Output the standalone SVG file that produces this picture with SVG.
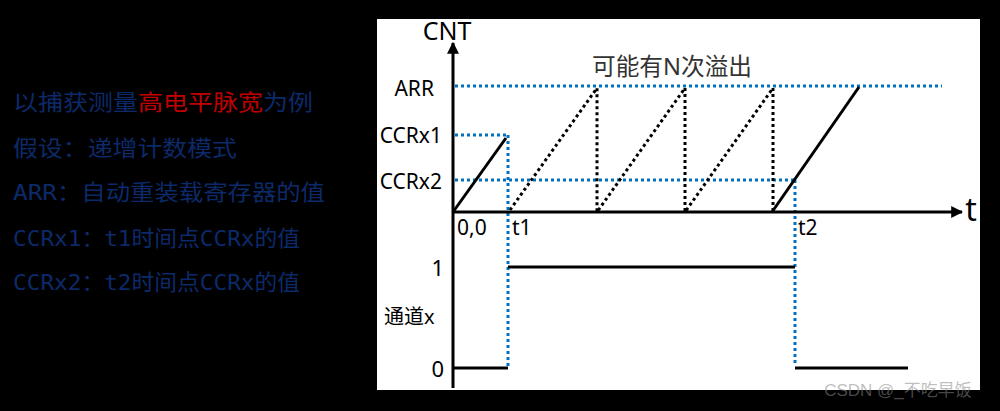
<svg xmlns="http://www.w3.org/2000/svg" width="1000" height="411" viewBox="0 0 1000 411">
<defs>
<style>
.lt{font-family:"DejaVu Sans Mono","Noto Sans CJK SC",monospace;font-size:22px;fill:#0c2a6a}
.red{fill:#c00000}
.lb{font-family:"Noto Sans","Noto Sans CJK SC",sans-serif;font-size:21px;fill:#000}
.blue{stroke:#0070c0;stroke-width:3;stroke-dasharray:3 3;fill:none}
.dot{stroke:#000;stroke-width:3;stroke-dasharray:3 3;fill:none}
.solid{stroke:#000;stroke-width:3;fill:none}
</style>
<marker id="ah" viewBox="0 0 10 10" refX="9" refY="5" markerWidth="4" markerHeight="4" orient="auto"><path d="M0,0 L10,5 L0,10 z" fill="#000"/></marker>
</defs>
<rect x="0" y="0" width="1000" height="411" fill="#000"/>
<g id="legend">
<text class="lt" x="13" y="110" textLength="300" lengthAdjust="spacingAndGlyphs">以捕获测量<tspan class="red">高电平脉宽</tspan>为例</text>
<text class="lt" x="13" y="156" textLength="224" lengthAdjust="spacingAndGlyphs">假设：递增计数模式</text>
<text class="lt" x="13" y="200" textLength="312" lengthAdjust="spacingAndGlyphs">ARR：自动重装载寄存器的值</text>
<text class="lt" x="13" y="246" textLength="287" lengthAdjust="spacingAndGlyphs">CCRx1：t1时间点CCRx的值</text>
<text class="lt" x="13" y="290" textLength="287" lengthAdjust="spacingAndGlyphs">CCRx2：t2时间点CCRx的值</text>
</g>
<g id="panel"><rect x="377" y="19" width="603" height="371" fill="#fff"/></g>
<g id="guides">
<line class="blue" x1="455" y1="86" x2="942" y2="86"/>
<line class="blue" x1="455" y1="135" x2="508" y2="135"/>
<line class="blue" x1="455" y1="180" x2="795" y2="180"/>
<line class="blue" x1="508" y1="135" x2="508" y2="366"/>
<line class="blue" x1="795" y1="180" x2="795" y2="366"/>
</g>
<g id="axes">
<line class="solid" x1="453" y1="388" x2="453" y2="43" marker-end="url(#ah)"/>
<line class="solid" x1="453" y1="212" x2="962" y2="212" marker-end="url(#ah)"/>
</g>
<g id="counter">
<line class="solid" x1="453" y1="212" x2="506" y2="138"/>
<polyline class="dot" points="510,210 597,88 597,212 685,88 685,212 773,88 773,212"/>
<line class="solid" x1="772" y1="212" x2="859" y2="87"/>
</g>
<g id="signal">
<polyline class="solid" points="453,368 508,368"/>
<polyline class="solid" points="508,267 795,267"/>
<polyline class="solid" points="795,368 908,368"/>
</g>
<g id="labels">
<text class="lb" x="447" y="40" style="font-size:25px" text-anchor="middle">CNT</text>
<text class="lb" x="971" y="221" style="font-size:32px" text-anchor="middle">t</text>
<text class="lb" x="434" y="96" text-anchor="end">ARR</text>
<text class="lb" x="442" y="143" text-anchor="end">CCRx1</text>
<text class="lb" x="442" y="189" text-anchor="end">CCRx2</text>
<text class="lb" x="672" y="75" style="font-size:24px;fill:#333" text-anchor="middle" textLength="160" lengthAdjust="spacingAndGlyphs">可能有N次溢出</text>
<text class="lb" x="457" y="235">0,0</text>
<text class="lb" x="512" y="235">t1</text>
<text class="lb" x="798" y="235">t2</text>
<text class="lb" x="444" y="276" style="font-size:22px" text-anchor="end">1</text>
<text class="lb" x="384" y="324" style="font-size:20px">通道x</text>
<text class="lb" x="444" y="377" style="font-size:22px" text-anchor="end">0</text>
<text x="898" y="396" font-family="Liberation Sans,Noto Sans CJK SC,sans-serif" font-size="17" fill="#888" fill-opacity="0.55" text-anchor="middle">CSDN @_不吃早饭</text>
</g>
</svg>
